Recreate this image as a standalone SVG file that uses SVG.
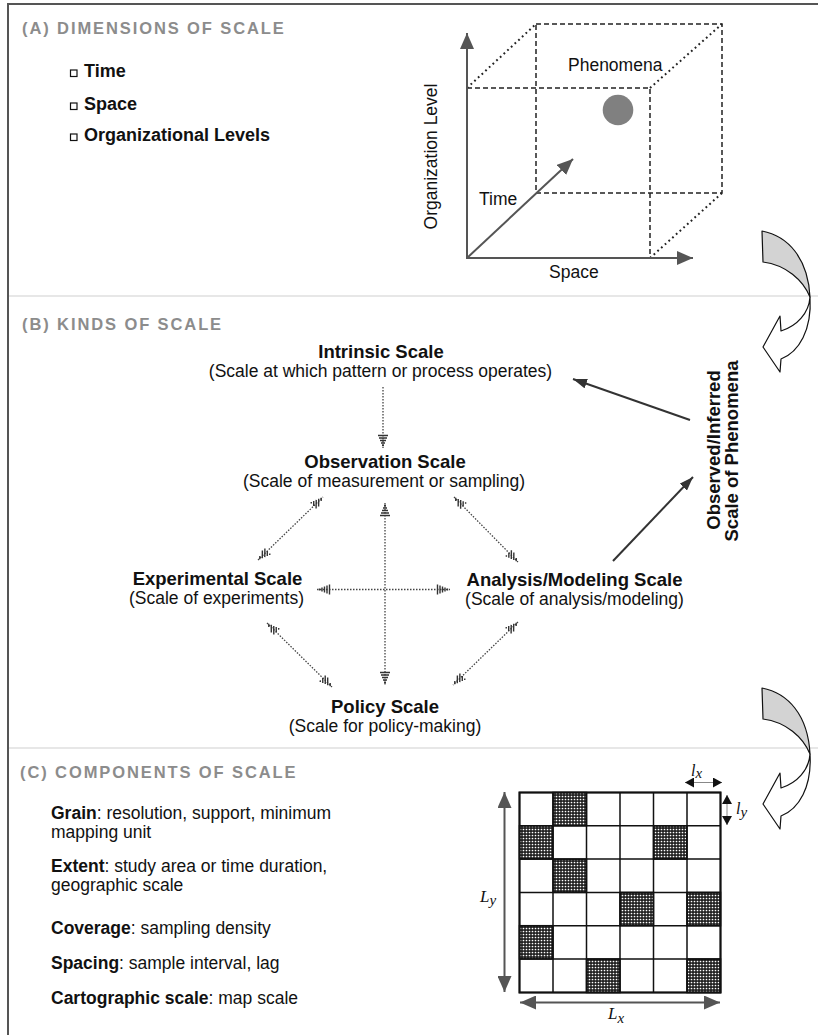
<svg xmlns="http://www.w3.org/2000/svg" width="818" height="1035" viewBox="0 0 818 1035">
<style>
text{font-family:"Liberation Sans",Arial,sans-serif;fill:#111}
.ttl{font-size:16.5px;font-weight:bold;fill:#8c8c8c;letter-spacing:1.9px}
.bul{font-size:18px;font-weight:bold}
.reg{font-size:17.5px}
.nt{font-size:18.5px;font-weight:bold;text-anchor:middle}
.ns{font-size:17.5px;text-anchor:middle}
.it{font-family:"Liberation Serif","Times New Roman",serif;font-style:italic}
.dash{fill:none;stroke:#222;stroke-width:1.5;stroke-dasharray:5 3}
.dot{fill:none;stroke:#222;stroke-width:2;stroke-dasharray:1.8 3.2}
.axis{fill:none;stroke:#555;stroke-width:2}
.dl{fill:none;stroke:#444;stroke-width:1.3;stroke-dasharray:1.5 1.5}
.sol{fill:none;stroke:#333;stroke-width:2}
.sep{stroke:#cfcfcf;stroke-width:1.2}
.cell{fill:#fff;stroke:#111;stroke-width:1.5}
.sh{fill:url(#ht);stroke:#111;stroke-width:1.5}
.curl{stroke:#111;stroke-width:1.2;stroke-linejoin:round}
</style>
<defs>
<pattern id="ht" width="3" height="3" patternUnits="userSpaceOnUse">
<rect width="3" height="3" fill="#222"/>
<circle cx="1.5" cy="1.5" r="0.85" fill="#fff"/>
</pattern>
<marker id="ga" viewBox="0 0 16 14" refX="16" refY="7" markerWidth="16" markerHeight="14" markerUnits="userSpaceOnUse" orient="auto-start-reverse">
<path d="M0,0 L16,7 L0,14 Z" fill="#555"/>
</marker>
<marker id="ba" viewBox="0 0 14 10" refX="14" refY="5" markerWidth="14" markerHeight="10" markerUnits="userSpaceOnUse" orient="auto">
<path d="M0,0 L14,5 L0,10 Z" fill="#333"/>
</marker>
<marker id="ka" viewBox="0 0 9 10" refX="9" refY="5" markerWidth="9" markerHeight="10" markerUnits="userSpaceOnUse" orient="auto-start-reverse">
<path d="M0,0 L9,5 L0,10 Z" fill="#111"/>
</marker>
<marker id="hm" viewBox="-14 -6 15 12" refX="0" refY="0" markerWidth="15" markerHeight="12" markerUnits="userSpaceOnUse" orient="auto-start-reverse">
<path d="M-12.5,-5V5M-10,-4V4M-7.5,-3V3M-5,-2V2M-2.5,-1V1" stroke="#333" stroke-width="1.4" fill="none"/>
</marker>
<marker id="hp" viewBox="-14 -6 15 12" refX="0" refY="0" markerWidth="15" markerHeight="12" markerUnits="userSpaceOnUse" orient="auto-start-reverse">
<path d="M-4.06,-1.56L-1.81,0.69M-9.75,-3.75L-4.33,1.67M-13,-3.5L-6.86,2.64M-13,0L-9.39,3.61M-13,3.5L-11.92,4.58" stroke="#333" stroke-width="1.4" fill="none"/>
</marker>
<marker id="hn" viewBox="-14 -6 15 12" refX="0" refY="0" markerWidth="15" markerHeight="12" markerUnits="userSpaceOnUse" orient="auto-start-reverse">
<path d="M-4.06,1.56L-1.81,-0.69M-9.75,3.75L-4.33,-1.67M-13,3.5L-6.86,-2.64M-13,0L-9.39,-3.61M-13,-3.5L-11.92,-4.58" stroke="#333" stroke-width="1.4" fill="none"/>
</marker>
</defs>

<rect width="818" height="1035" fill="#fff"/>
<path d="M8,1035 V4 H818" fill="none" stroke="#555" stroke-width="2"/>
<line class="sep" x1="9" y1="296" x2="818" y2="296"/>
<line class="sep" x1="9" y1="748" x2="818" y2="748"/>

<!-- Panel A -->
<g id="panelA">
<text class="ttl" x="22" y="34">(A) DIMENSIONS OF SCALE</text>
<rect x="70.5" y="70" width="6.5" height="6.5" fill="none" stroke="#111" stroke-width="1.2"/>
<text class="bul" x="84" y="77">Time</text>
<rect x="70.5" y="103" width="6.5" height="6.5" fill="none" stroke="#111" stroke-width="1.2"/>
<text class="bul" x="84" y="110">Space</text>
<rect x="70.5" y="134" width="6.5" height="6.5" fill="none" stroke="#111" stroke-width="1.2"/>
<text class="bul" x="84" y="141">Organizational Levels</text>
</g>

<g id="cube">
<rect class="dash" x="536" y="24" width="186" height="169"/>
<path class="dash" d="M467,88 H650 V258"/>
<path class="dot" d="M467,88 L536,24 M650,88 L722,24 M650,258 L722,193"/>
<circle cx="618" cy="110" r="15.3" fill="#808080"/>
<text class="reg" x="568" y="70.5">Phenomena</text>
<line class="axis" x1="467" y1="259" x2="467" y2="33" marker-end="url(#ga)"/>
<line class="axis" x1="466" y1="258" x2="693" y2="258" marker-end="url(#ga)"/>
<line class="axis" x1="467" y1="258" x2="573" y2="159" marker-end="url(#ga)"/>
<text class="reg" x="479" y="205">Time</text>
<text class="reg" x="549" y="278">Space</text>
<text class="reg" text-anchor="middle" transform="translate(437,156.5) rotate(-90)">Organization Level</text>
</g>

<!-- curved arrows -->
<g id="curl1" class="curl">
<path d="M762,231 C788,236 808,258 810,297 C803,280 786,265 763,262 Z" fill="#d3d3d3"/>
<path d="M810,297 C809,313 797,326 781,331 L780,316 L763,347 L780,372 L781,359 C799,352 812,330 810,297 Z" fill="#fff"/>
</g>
<g id="curl2" class="curl" transform="translate(0,457)">
<path d="M762,231 C788,236 808,258 810,297 C803,280 786,265 763,262 Z" fill="#d3d3d3"/>
<path d="M810,297 C809,313 797,326 781,331 L780,316 L763,347 L780,372 L781,359 C799,352 812,330 810,297 Z" fill="#fff"/>
</g>

<!-- Panel B -->
<text class="ttl" x="22" y="330">(B) KINDS OF SCALE</text>
<g id="intrinsic">
<text class="nt" x="381" y="358">Intrinsic Scale</text>
<text class="ns" x="380.5" y="377">(Scale at which pattern or process operates)</text>
</g>
<g id="observation">
<text class="nt" x="385" y="468">Observation Scale</text>
<text class="ns" x="384" y="487">(Scale of measurement or sampling)</text>
</g>
<g id="experimental">
<text class="nt" x="217.5" y="585">Experimental Scale</text>
<text class="ns" x="216.5" y="604">(Scale of experiments)</text>
</g>
<g id="analysis">
<text class="nt" x="574.5" y="586">Analysis/Modeling Scale</text>
<text class="ns" x="574.5" y="605">(Scale of analysis/modeling)</text>
</g>
<g id="policy">
<text class="nt" x="385" y="713">Policy Scale</text>
<text class="ns" x="385" y="732">(Scale for policy-making)</text>
</g>
<g id="phenomena">
<text class="nt" font-size="18" transform="translate(720,450) rotate(-90)">Observed/Inferred</text>
<text class="nt" font-size="18" transform="translate(738,451) rotate(-90)">Scale of Phenomena</text>
</g>

<g id="connectors">
<line class="dl" x1="383" y1="387" x2="383" y2="448" marker-end="url(#hm)"/>
<line class="dl" x1="385" y1="503" x2="385" y2="685" marker-start="url(#hm)" marker-end="url(#hm)"/>
<line class="dl" x1="317" y1="589.5" x2="450" y2="589.5" marker-start="url(#hm)" marker-end="url(#hm)"/>
<line class="dl" x1="258" y1="560" x2="323" y2="497" marker-start="url(#hn)" marker-end="url(#hn)"/>
<line class="dl" x1="454" y1="497" x2="518" y2="562" marker-start="url(#hp)" marker-end="url(#hp)"/>
<line class="dl" x1="267" y1="623" x2="332" y2="687" marker-start="url(#hp)" marker-end="url(#hp)"/>
<line class="dl" x1="518" y1="622" x2="453" y2="685" marker-start="url(#hn)" marker-end="url(#hn)"/>
<line class="sol" x1="690" y1="420" x2="573" y2="379" marker-end="url(#ba)"/>
<line class="sol" x1="613" y1="561" x2="693" y2="477" marker-end="url(#ba)"/>
</g>

<!-- Panel C -->
<g id="panelC">
<text class="ttl" x="20" y="778">(C) COMPONENTS OF SCALE</text>
<text class="reg" x="51" y="819"><tspan font-weight="bold">Grain</tspan>: resolution, support, minimum</text>
<text class="reg" x="51" y="838">mapping unit</text>
<text class="reg" x="51" y="872"><tspan font-weight="bold">Extent</tspan>: study area or time duration,</text>
<text class="reg" x="51" y="891">geographic scale</text>
<text class="reg" x="51" y="934"><tspan font-weight="bold">Coverage</tspan>: sampling density</text>
<text class="reg" x="51" y="969"><tspan font-weight="bold">Spacing</tspan>: sample interval, lag</text>
<text class="reg" x="51" y="1004"><tspan font-weight="bold">Cartographic scale</tspan>: map scale</text>
</g>

<g id="grid">
<rect class="cell" x="519.5" y="792.5" width="201" height="200"/>
<rect class="sh" x="553" y="792.5" width="33.5" height="33.3"/>
<rect class="sh" x="519.5" y="825.8" width="33.5" height="33.3"/>
<rect class="sh" x="653.5" y="825.8" width="33.5" height="33.3"/>
<rect class="sh" x="553" y="859.1" width="33.5" height="33.3"/>
<rect class="sh" x="620" y="892.4" width="33.5" height="33.3"/>
<rect class="sh" x="687" y="892.4" width="33.5" height="33.3"/>
<rect class="sh" x="519.5" y="925.7" width="33.5" height="33.3"/>
<rect class="sh" x="586.5" y="959" width="33.5" height="33.5"/>
<rect class="sh" x="687" y="959" width="33.5" height="33.5"/>
<path d="M553,792.5V992.5M586.5,792.5V992.5M620,792.5V992.5M653.5,792.5V992.5M687,792.5V992.5M519.5,825.8H720.5M519.5,859.1H720.5M519.5,892.4H720.5M519.5,925.7H720.5M519.5,959H720.5" stroke="#111" stroke-width="1.5" fill="none"/>
<rect x="519.5" y="792.5" width="201" height="200" fill="none" stroke="#111" stroke-width="2"/>
<line class="axis" x1="504.5" y1="792" x2="504.5" y2="992" marker-start="url(#ga)" marker-end="url(#ga)"/>
<line class="axis" x1="520" y1="1002.5" x2="720" y2="1002.5" marker-start="url(#ga)" marker-end="url(#ga)"/>
<line x1="685" y1="782.5" x2="722" y2="782.5" stroke="#888" stroke-width="1" marker-start="url(#ka)" marker-end="url(#ka)"/>
<line x1="727" y1="795" x2="727" y2="825" stroke="#888" stroke-width="1" marker-start="url(#ka)" marker-end="url(#ka)"/>
<text class="it" x="480" y="902" font-size="17">L<tspan font-size="15" dy="3">y</tspan></text>
<text class="it" x="608" y="1019" font-size="17">L<tspan font-size="15" dy="4">x</tspan></text>
<text class="it" x="691" y="776" font-size="16">l<tspan font-size="15" dy="2">x</tspan></text>
<text class="it" x="736" y="814" font-size="16">l<tspan font-size="15" dy="3">y</tspan></text>
</g>
</svg>
